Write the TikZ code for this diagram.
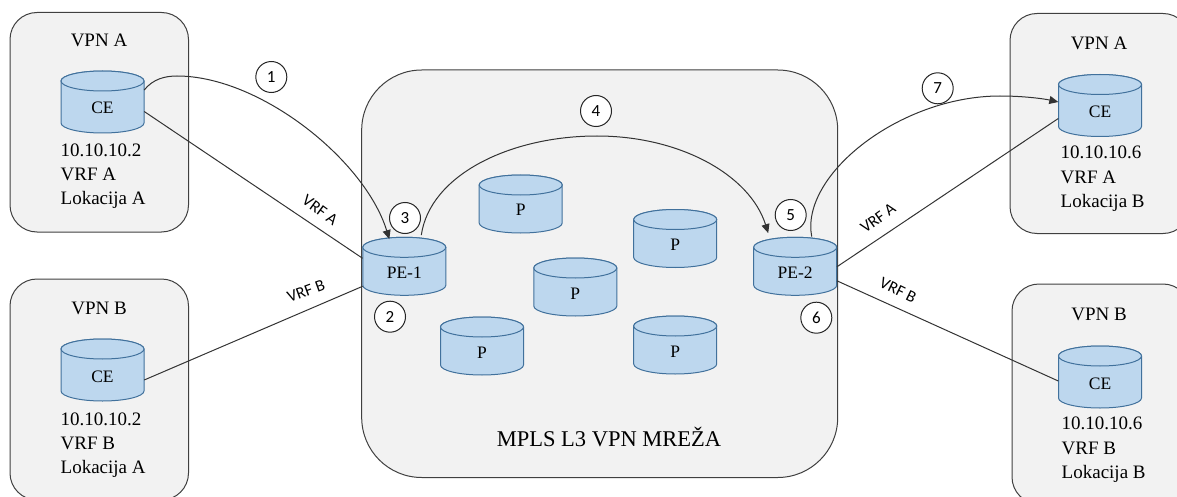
\documentclass[tikz,border=0pt]{standalone}
\usepackage{fontspec}
\setmainfont{Liberation Serif}
\newfontfamily\lblfont{Carlito}
\usetikzlibrary{arrows.meta}
\definecolor{panelgray}{HTML}{F2F2F2}
\definecolor{panelline}{HTML}{404040}
\definecolor{cylfill}{HTML}{BDD7EE}
\definecolor{cylline}{HTML}{41719C}
\tikzset{
  panel/.style={draw=panelline,fill=panelgray,line width=1pt},
  cylbody/.style={draw=cylline,fill=cylfill,line width=1pt},
  cyllabel/.style={inner sep=0pt,minimum width=83pt,minimum height=58pt,font=\fontsize{17.5}{20}\selectfont},
  head/.style={font=\fontsize{19}{23}\selectfont},
  info/.style={anchor=north west,inner sep=0pt,align=left,font=\fontsize{19}{24.3}\selectfont},
  numcirc/.style={circle,draw=black!85,fill=white,line width=1pt,minimum size=31pt,inner sep=0pt,font=\lblfont\fontsize{17}{19}\selectfont},
  link/.style={draw=black!80,line width=1pt},
  flow/.style={link,-{Triangle[length=9pt,width=8pt]}},
  vrf/.style={font=\lblfont\fontsize{16.5}{18}\selectfont,inner sep=0pt},
}
% name, centre x, top y, height, label
\newcommand{\cylnode}[5]{%
  \draw[cylbody] (#2-41.5,#3+10) -- (#2-41.5,#3+#4-10) arc[start angle=180,end angle=0,x radius=41.5,y radius=10] -- (#2+41.5,#3+10) arc[start angle=0,end angle=-180,x radius=41.5,y radius=10] -- cycle;
  \draw[cylbody] (#2,#3+10) ellipse[x radius=41.5,y radius=10];
  \node[cyllabel,minimum height=#4pt] (#1) at (#2,#3+#4/2) {\raisebox{-12pt}[0pt][0pt]{#5}};
}
\begin{document}
\begin{tikzpicture}[x=1pt,y=-1pt]
\useasboundingbox (0,0) rectangle (1177,497);
\clip (0,0) rectangle (1177,497);
% panels
\draw[panel,rounded corners=27pt] (10,12.5) rectangle (188.5,232);
\draw[panel,rounded corners=27pt] (10,279) rectangle (188.5,500);
\draw[panel,rounded corners=27pt] (1010,13.5) rectangle (1190,233.5);
\draw[panel,rounded corners=27pt] (1012,284) rectangle (1190,504);
\draw[panel,rounded corners=60pt] (361.7,70) rectangle (837.7,477.5);
% cylinders
\cylnode{cea}{102.5}{71}{62}{CE}
\cylnode{ceb}{102.5}{339}{62}{CE}
\cylnode{cec}{1100}{74.5}{62}{CE}
\cylnode{ced}{1100}{346}{62}{CE}
\cylnode{pea}{404.3}{237.3}{58}{PE-1}
\cylnode{peb}{795.2}{237.3}{58}{PE-2}
\cylnode{pa}{520.7}{175}{58}{P}
\cylnode{pb}{675.2}{209.5}{58}{P}
\cylnode{pc}{575.3}{258}{58}{P}
\cylnode{pd}{482}{317}{58}{P}
\cylnode{pe}{675.2}{316}{58}{P}
% panel texts
\node[head] (ta) at (99,40) {VPN A};
\node[head] (tb) at (99,308) {VPN B};
\node[head] (tc) at (1099,43) {VPN A};
\node[head] (td) at (1099,314) {VPN B};
\node[info] (ia) at (60.5,143.5) {10.10.10.2\\VRF A\\Lokacija A};
\node[info] (ib) at (60.5,412.5) {10.10.10.2\\VRF B\\Lokacija A};
\node[info] (ic) at (1060.5,146) {10.10.10.6\\VRF A\\Lokacija B};
\node[info] (id) at (1061.5,417) {10.10.10.6\\VRF B\\Lokacija B};
\node[font=\fontsize{22.5}{26}\selectfont] (mpls) at (609,437) {MPLS L3 VPN MREŽA};
% plain links
\draw[link] ([yshift=-9.5pt]cea.east) -- ([yshift=8pt]pea.west);
\draw[link] ([yshift=-10pt]ceb.east) -- ([yshift=-20pt]pea.west);
\draw[link] ([yshift=-13pt]cec.west) -- ([yshift=-0.5pt]peb.east);
\draw[link] ([yshift=-4pt]ced.west) -- ([yshift=-14.5pt]peb.east);
% flows
\draw[flow] ([yshift=12pt]cea.east) .. controls (153,79) and (165,76) .. (177,76) .. controls (260,76) and (365,160) .. ([xshift=-15pt,yshift=-2pt]pea.north);
\draw[flow] ([xshift=17pt,yshift=2pt]pea.north) .. controls (430,175) and (510,136) .. (597,136) .. controls (680,136) and (750,175) .. ([xshift=-27pt,yshift=4pt]peb.north);
\draw[flow] ([xshift=16.5pt,yshift=0.5pt]peb.north) .. controls (800,175) and (900,96) .. (1000,96) .. controls (1025,96) and (1045,99) .. ([yshift=3.5pt]cec.west);
% numbers
\node[numcirc] (n1) at (271.3,77) {1};
\node[numcirc] (n2) at (390,316.7) {2};
\node[numcirc] (n3) at (405,218) {3};
\node[numcirc] (n4) at (596,111) {4};
\node[numcirc] (n5) at (790.7,215) {5};
\node[numcirc] (n6) at (816.3,317.7) {6};
\node[numcirc] (n7) at (937.7,88.3) {7};
% VRF labels
\node[vrf,rotate=-36] (va) at (320,210) {VRF A};
\node[vrf,rotate=20] (vb) at (306,291) {VRF B};
\node[vrf,rotate=36] (vc) at (878,218) {VRF A};
\node[vrf,rotate=-26] (vd) at (898,290.5) {VRF B};
\end{tikzpicture}
\end{document}
